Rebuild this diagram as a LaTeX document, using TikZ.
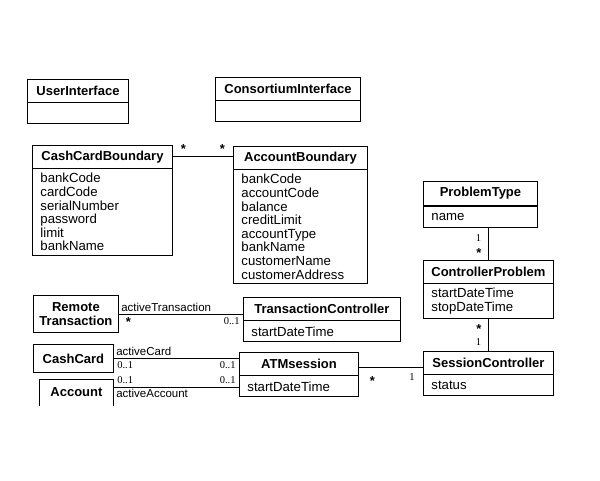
\documentclass[tikz,border=0pt]{standalone}
\usepackage{fontspec}
\setmainfont{Liberation Sans}
\newfontfamily\multfont{Liberation Serif}
\usetikzlibrary{positioning}

\begin{document}
\begin{tikzpicture}[
    x=1pt, y=-1pt,
    line width=0.9pt,
    classname/.style={draw, anchor=north west, minimum height=22.5pt, inner sep=2pt, font=\fontsize{13}{13.5}\selectfont\bfseries},
    attrs/.style={draw, below=0pt of #1, minimum height=21pt, inner xsep=8pt, inner ysep=4.5pt, align=left, font=\fontsize{13.2}{13.6}\selectfont},
    role/.style={font=\fontsize{11.5}{12}\selectfont, inner sep=2pt},
    mult/.style={font=\multfont\fontsize{10.5}{11}\selectfont, inner sep=3pt},
    many/.style={font=\fontsize{13}{13}\selectfont\bfseries, inner sep=2.5pt}
]
\useasboundingbox (0,0) rectangle (600,480);

% Interfaces
\node[classname, minimum width=101pt] (ui) at (27,79) {UserInterface};
\node[attrs=ui, text width=85pt] (uiA) {};
\node[classname, minimum width=145pt] (ci) at (215,77) {ConsortiumInterface};
\node[attrs=ci, text width=129pt] (ciA) {};

% Boundary classes
\node[classname, minimum width=140pt] (ccb) at (32,145) {CashCardBoundary};
\node[attrs=ccb, text width=124pt] (ccbA) {bankCode\\cardCode\\serialNumber\\password\\limit\\bankName};
\node[classname, minimum width=134pt] (acb) at (233,146) {AccountBoundary};
\node[attrs=acb, text width=118pt] (acbA) {bankCode\\accountCode\\balance\\creditLimit\\accountType\\bankName\\customerName\\customerAddress};

% Controller problems
\node[classname, minimum width=114pt, minimum height=24pt] (pt) at (423,181) {ProblemType};
\node[attrs=pt, text width=98pt] (ptA) {name};
\node[classname, minimum width=130pt] (cp) at (423,260) {ControllerProblem};
\node[attrs=cp, text width=114pt] (cpA) {startDateTime\\stopDateTime};
\node[classname, minimum width=130pt] (sc) at (423,351) {SessionController};
\node[attrs=sc, text width=114pt] (scA) {status};

% Session and transaction
\node[classname, minimum width=157pt] (tc) at (243,297) {TransactionController};
\node[attrs=tc, text width=141pt] (tcA) {startDateTime};
\node[classname, minimum width=119pt] (atm) at (239,352) {ATMsession};
\node[attrs=atm, text width=103pt] (atmA) {startDateTime};

% Plain boxes
\node[classname, minimum width=85pt, minimum height=37pt, align=center] (rt) at (33,295) {Remote\\Transaction};
\node[classname, minimum width=80pt, minimum height=28pt] (cc) at (33,344) {CashCard};
\node[classname, draw=none, minimum width=74pt, minimum height=26pt] (acc) at (39,379) {Account};
\draw (acc.south west) |- (acc.north east) -- (acc.south east);

% Associations
\draw (ccb.east) -- (ccb.east -| acb.west)
    node[many, pos=0, above right=0pt and 5pt] {*}
    node[many, pos=1, above left=0pt and 5pt] {*};
\draw (cp.north |- ptA.south) -- (cp.north)
    node[mult, pos=0, below left=3pt and 4pt] {1}
    node[many, pos=1, above left=0pt and 4pt] {*};
\draw (cpA.south) -- (sc.north)
    node[many, pos=0, below left=2pt and 4pt] {*}
    node[mult, pos=1, above left=2pt and 4pt] {1};
\draw (rt.east) -- (rt.east -| tc.west)
    node[role, pos=0, above right] {activeTransaction}
    node[many, pos=0, below right=1pt and 4pt] {*}
    node[mult, pos=1, below left] {0..1};
\draw (cc.east) -- (cc.east -| atm.west)
    node[role, pos=0, above right] {activeCard}
    node[mult, pos=0, below right] {0..1}
    node[mult, pos=1, below left] {0..1};
\coordinate (accR) at ([yshift=-8pt]acc.north east);
\draw (accR) -- (accR -| atm.west)
    node[mult, pos=0, above right] {0..1}
    node[mult, pos=1, above left] {0..1}
    node[role, pos=0, below right] {activeAccount};
\coordinate (atmR) at ([yshift=-3.5pt]atm.east);
\draw (atmR) -- (atmR -| sc.west)
    node[many, pos=0, below right=6pt and 8pt] {*}
    node[mult, pos=1, below left=3pt and 5pt] {1};
\end{tikzpicture}
\end{document}
